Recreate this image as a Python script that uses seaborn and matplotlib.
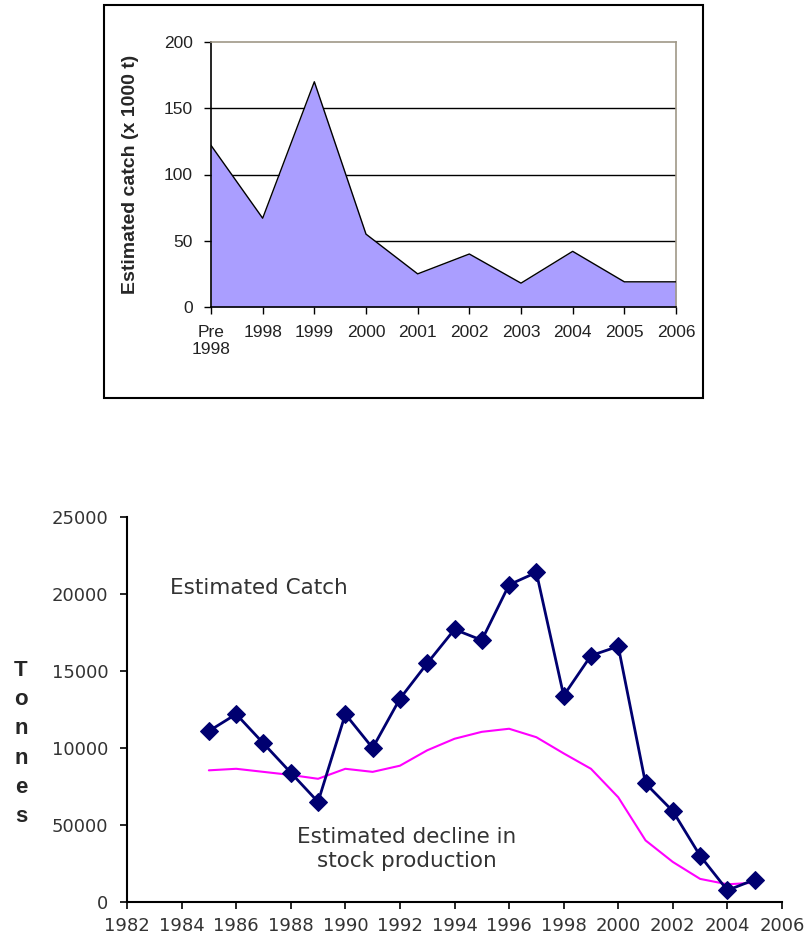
import numpy as np
import pandas as pd
import seaborn as sns
import matplotlib.pyplot as plt
from matplotlib.patches import Rectangle

sns.set_style('white')
plt.rcParams['font.family'] = ['Liberation Sans', 'DejaVu Sans']

# ── top chart: estimated catch per year (x 1000 t) ──────────────────────────
catch_labels = ['Pre\n1998', '1998', '1999', '2000', '2001', '2002', '2003', '2004', '2005', '2006']
catch_kt = [122, 67, 170, 55, 25, 40, 18, 42, 19, 19]
top_yticks = [0, 50, 100, 150, 200]

# ── bottom chart: catch in tonnes and estimated stock production ────────────
years = [1985, 1986, 1987, 1988, 1989, 1990, 1991, 1992, 1993, 1994, 1995,
         1996, 1997, 1998, 1999, 2000, 2001, 2002, 2003, 2004, 2005]
catch_t = [11100, 12200, 10300, 8400, 6500, 12200, 10000, 13200, 15500, 17700, 17000,
           20600, 21400, 13400, 16000, 16600, 7700, 5900, 3000, 760, 1450]
stock_t = [8550, 8650, 8450, 8250, 8000, 8650, 8450, 8850, 9850, 10600, 11050,
           11250, 10700, 9650, 8650, 6800, 4000, 2600, 1500, 1150, 1250]
bottom_yticks = [0, 5000, 10000, 15000, 20000, 25000]
bottom_yticklabels = ['0', '50000', '10000', '15000', '20000', '25000']
bottom_xticks = list(range(1982, 2007, 2))

fig = plt.figure(figsize=(8.09, 9.36), dpi=100)
W, H = 809, 936

# frame around the top chart
fig.add_artist(Rectangle((104 / W, 1 - 398 / H), 599 / W, 393 / H, transform=fig.transFigure,
                         fill=False, edgecolor='black', lw=1.5))

# top area chart
ax1 = fig.add_axes([211 / W, 1 - 307 / H, 465 / W, 265 / H])
df1 = pd.DataFrame({'pos': range(len(catch_kt)), 'catch': catch_kt})
for v in top_yticks[1:-1]:
    ax1.axhline(v, color='black', lw=1, zorder=1)
ax1.fill_between(df1['pos'], df1['catch'], color='#aa9eff', lw=0, zorder=2)
sns.lineplot(data=df1, x='pos', y='catch', ax=ax1, color='black', lw=1, zorder=3)
ax1.set_xlim(0, len(catch_kt) - 1)
ax1.set_ylim(0, 200)
ax1.set_xticks(df1['pos'])
ax1.set_xticklabels(catch_labels)
ax1.set_yticks(top_yticks)
ax1.set_xlabel('')
ax1.set_ylabel('Estimated catch (x 1000 t)', fontsize=14, fontweight='bold')
ax1.yaxis.set_label_coords(-0.155, 0.5)
ax1.tick_params(axis='both', bottom=True, left=True, direction='out', length=5, width=1,
                colors='black', labelsize=12.5)
ax1.tick_params(axis='x', pad=8)
ax1.tick_params(axis='y', pad=8)
for lab in ax1.get_xticklabels() + ax1.get_yticklabels():
    lab.set_color('#222222')
for s in ['left', 'bottom']:
    ax1.spines[s].set_color('black')
    ax1.spines[s].set_linewidth(1.2)
for s in ['top', 'right']:
    ax1.spines[s].set_color('#a09888')
    ax1.spines[s].set_linewidth(1.2)

# bottom line chart
ax2 = fig.add_axes([127 / W, 1 - 902 / H, 655 / W, 385 / H])
sns.lineplot(x=years, y=stock_t, ax=ax2, color='#ff00ff', lw=1.5)
sns.lineplot(x=years, y=catch_t, ax=ax2, color='#000070', lw=2, marker='D',
             markersize=9, markeredgecolor='#000070')
ax2.set_xlim(1982, 2006)
ax2.set_ylim(0, 25000)
ax2.set_xticks(bottom_xticks)
ax2.set_yticks(bottom_yticks)
ax2.set_yticklabels(bottom_yticklabels)
ax2.tick_params(axis='both', bottom=True, left=True, direction='out', length=5, width=1.2,
                colors='black', labelsize=13, labelcolor='#333333')
ax2.tick_params(axis='x', pad=5.5)
ax2.tick_params(axis='y', pad=8.5)
for lab in ax2.get_xticklabels() + ax2.get_yticklabels():
    lab.set_family('DejaVu Sans')
sns.despine(ax=ax2)
for s in ['left', 'bottom']:
    ax2.spines[s].set_color('black')
    ax2.spines[s].set_linewidth(1.5)

fig.text(170 / W, 1 - 588 / H, 'Estimated Catch', fontsize=15.5, color='#333333',
         family='DejaVu Sans', ha='left', va='center')
fig.text(407 / W, 1 - 849 / H, 'Estimated decline in\nstock production', fontsize=15.5,
         color='#333333', family='DejaVu Sans', ha='center', va='center',
         multialignment='center', linespacing=1.3)

# vertical "Tonnes" label, one letter per line
for i, ch in enumerate('Tonnes'):
    fig.text(21 / W, 1 - (670 + i * 29.4) / H, ch, fontsize=16, fontweight='bold',
             ha='center', va='center')

plt.savefig('out.png', dpi=100)
